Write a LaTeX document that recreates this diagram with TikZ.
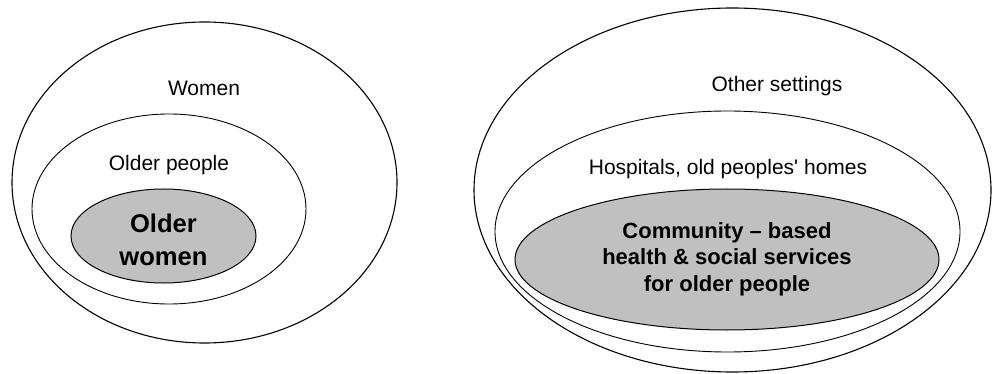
\documentclass[tikz,border=0pt]{standalone}
\usepackage{fontspec}
\setmainfont{Liberation Sans}
\usetikzlibrary{shapes.geometric,positioning}
\definecolor{Core}{HTML}{C0C0C0}

\begin{document}
\begin{tikzpicture}[x=1pt, y=-1pt,
    ring/.style={draw=black, ellipse, inner sep=0pt, line width=1.1pt},
    core/.style={draw=black, ellipse, inner sep=0pt, line width=1pt, fill=Core},
    lbl/.style={anchor=base, font=\fontsize{21}{25}\selectfont},
    corelbl/.style={anchor=center, align=center}]
    \useasboundingbox (0,0) rectangle (993,374);
    % left picture
    \node[ring, minimum width=385pt, minimum height=321pt] (women) at (204.5,182.5) {};
    \node[ring, line width=0.9pt, minimum width=274pt, minimum height=190pt] (older) at (169,209) {};
    \node[core, minimum width=185pt, minimum height=94pt] (olderwomen) at (163.5,236) {};
    \node[lbl] (womenlbl) at (204,96) {Women};
    \node[lbl] (olderlbl) at (169,171) {Older people};
    \node[corelbl, font=\fontsize{25.6}{33}\selectfont\bfseries] (olderwomenlbl) at (163.5,240) {Older\\women};
    % right picture
    \node[ring, minimum width=517pt, minimum height=364pt] (other) at (732.5,190) {};
    \node[ring, line width=0.9pt, minimum width=465pt, minimum height=241pt] (hosp) at (727.5,231.5) {};
    \node[core, minimum width=424pt, minimum height=141pt] (community) at (727,259.5) {};
    \node[lbl] (otherlbl) at (777,92) {Other settings};
    \node[lbl] (hosplbl) at (728,175) {Hospitals, old peoples\textquotesingle\ homes};
    \node[corelbl, font=\fontsize{22}{26.5}\selectfont\bfseries] (communitylbl) at (727,259) {Community -- based\\health \& social services\\for older people};
\end{tikzpicture}
\end{document}
